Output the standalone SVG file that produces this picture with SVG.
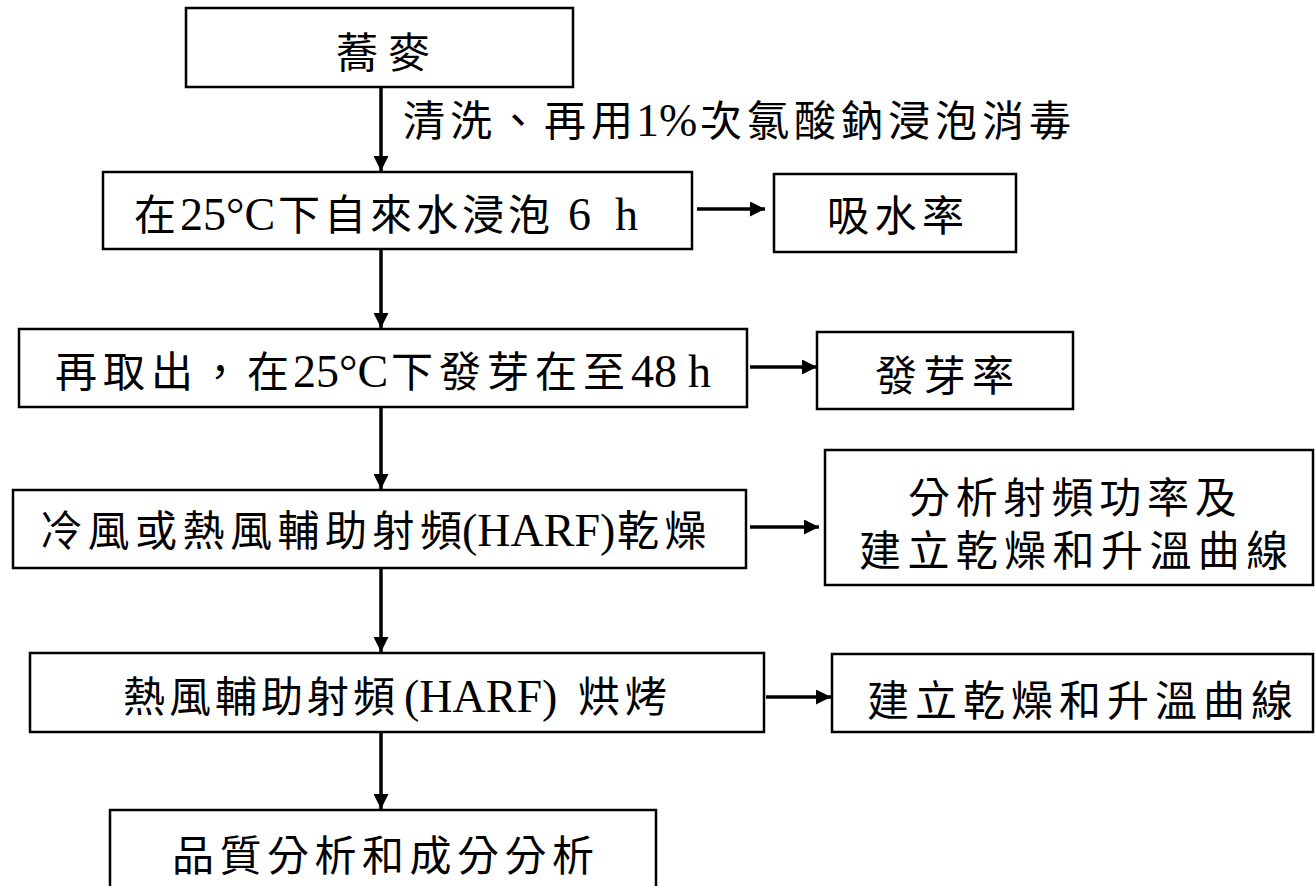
<svg xmlns="http://www.w3.org/2000/svg" width="1315" height="886" viewBox="0 0 1315 886">
<style>
.box{fill:#fff;stroke:#000;stroke-width:2.5}
.t{font-family:"Liberation Serif","Noto Sans CJK TC",serif;font-size:42px;fill:#000;letter-spacing:6px}
.l{font-size:46px;letter-spacing:0px}
.c{stroke:#000;stroke-width:3.5;fill:none}
</style>
<defs>
<marker id="ah" markerWidth="15" markerHeight="15" refX="15" refY="7.5" orient="auto" markerUnits="userSpaceOnUse">
<path d="M0,0 L15,7.5 L0,15 Z" fill="#000"/>
</marker>
</defs>
<rect width="1315" height="886" fill="#fff"/>
<g id="connectors">
<line class="c" x1="381" y1="87" x2="381" y2="171" marker-end="url(#ah)"/>
<line class="c" x1="381" y1="249" x2="381" y2="328" marker-end="url(#ah)"/>
<line class="c" x1="381" y1="407" x2="381" y2="489" marker-end="url(#ah)"/>
<line class="c" x1="381" y1="566" x2="381" y2="652" marker-end="url(#ah)"/>
<line class="c" x1="381" y1="732" x2="381" y2="809" marker-end="url(#ah)"/>
<line class="c" x1="697" y1="209" x2="765" y2="209" marker-end="url(#ah)"/>
<line class="c" x1="750" y1="367" x2="817" y2="367" marker-end="url(#ah)"/>
<line class="c" x1="750" y1="527" x2="819" y2="527" marker-end="url(#ah)"/>
<line class="c" x1="766" y1="697" x2="831" y2="697" marker-end="url(#ah)"/>
<text class="t" y="136" style="letter-spacing:5px"><tspan x="403">清洗、再用</tspan><tspan class="l" x="636">1%</tspan><tspan x="700">次氯酸鈉浸泡消毒</tspan></text>
</g>
<g id="n1"><rect class="box" x="186" y="8" width="387" height="79"/><text class="t" x="336" y="68" style="letter-spacing:10px">蕎麥</text></g>
<g id="n2"><rect class="box" x="103" y="172" width="589" height="77"/><text class="t" y="230"><tspan x="134" style="letter-spacing:0px">在</tspan><tspan class="l" x="180">25°C</tspan><tspan x="278" style="letter-spacing:4px">下自來水浸泡</tspan><tspan class="l" x="568">6</tspan><tspan class="l" x="615">h</tspan></text></g>
<g id="n3"><rect class="box" x="774" y="174" width="242" height="78"/><text class="t" x="827" y="231" style="letter-spacing:5.5px">吸水率</text></g>
<g id="n4"><rect class="box" x="19" y="329" width="728" height="78"/><text class="t" y="387"><tspan x="55">再取出，</tspan><tspan x="247" style="letter-spacing:0px">在</tspan><tspan class="l" x="293">25°C</tspan><tspan x="391">下發芽在至</tspan><tspan class="l" x="631">48</tspan><tspan class="l" x="688">h</tspan></text></g>
<g id="n5"><rect class="box" x="817" y="332" width="256" height="77"/><text class="t" x="875" y="391" style="letter-spacing:6.5px">發芽率</text></g>
<g id="n6"><rect class="box" x="13" y="490" width="733" height="78"/><text class="t" y="546" style="letter-spacing:5.5px"><tspan x="40">冷風或熱風輔助射頻</tspan><tspan class="l" x="462">(HARF)</tspan><tspan x="617">乾燥</tspan></text></g>
<g id="n7"><rect class="box" x="825" y="450" width="488" height="135"/><text class="t" x="908" y="513" style="letter-spacing:5.8px">分析射頻功率及</text><text class="t" x="859" y="566" style="letter-spacing:6.4px">建立乾燥和升溫曲線</text></g>
<g id="n8"><rect class="box" x="30" y="653" width="734" height="79"/><text class="t" y="712" style="letter-spacing:4px"><tspan x="123">熱風輔助射頻</tspan><tspan class="l" x="404">(HARF)</tspan><tspan x="578" style="letter-spacing:5px">烘烤</tspan></text></g>
<g id="n9"><rect class="box" x="832" y="654" width="481" height="78"/><text class="t" x="867" y="716">建立乾燥和升溫曲線</text></g>
<g id="n10"><rect class="box" x="110" y="810" width="546" height="90"/><text class="t" x="172" y="871" style="letter-spacing:5.5px">品質分析和成分分析</text></g>
</svg>
